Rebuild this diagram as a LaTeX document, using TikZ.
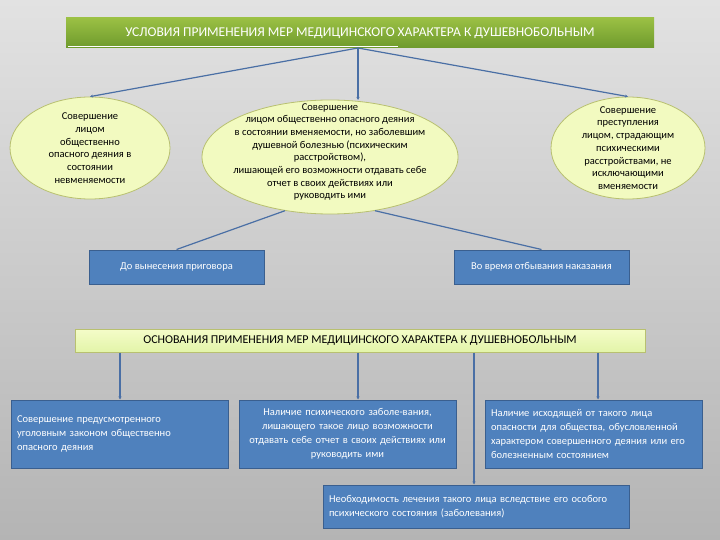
\documentclass[tikz,border=0pt]{standalone}
\usepackage{fontspec}
\setmainfont{Carlito}
\usetikzlibrary{arrows.meta,shapes.geometric}
\definecolor{bgtop}{HTML}{E2E2E2}
\definecolor{bgbot}{HTML}{B4B4B4}
\definecolor{grn1}{HTML}{9BC044}
\definecolor{grn2}{HTML}{6E9A2C}
\definecolor{ell}{HTML}{F2FAC0}
\definecolor{ellb}{HTML}{B8C070}
\definecolor{bx}{HTML}{4F81BD}
\definecolor{bxb}{HTML}{3A5F8F}
\definecolor{yl}{HTML}{F4FCC8}
\definecolor{yl2}{HTML}{E2F4A8}
\definecolor{ln}{HTML}{4A6FA5}
\begin{document}
\begin{tikzpicture}[x=1pt,y=-1pt,
  el/.style={ellipse,draw=ellb,fill=ell,line width=0.8pt,inner sep=0pt},
  elt/.style={align=center,font=\fontsize{10.5}{12.7}\selectfont,inner sep=0pt},
  bx/.style={draw=bxb,fill=bx,line width=1pt,text=white,font=\fontsize{10.5}{14}\selectfont,inner sep=3pt},
  con/.style={draw=ln,line width=1.2pt},
  arr/.style={con,-{Stealth[length=3pt,width=3pt]}}]
\useasboundingbox (0,0) rectangle (720,540);
\shade[top color=bgtop,bottom color=bgbot] (0,0) rectangle (720,540);
\node[minimum width=588pt,minimum height=30pt,inner sep=0pt,top color=grn1,bottom color=grn2,text=white,font=\fontsize{13.5}{15}\selectfont] (t1) at (360,33) {УСЛОВИЯ ПРИМЕНЕНИЯ МЕР МЕДИЦИНСКОГО ХАРАКТЕРА К ДУШЕВНОБОЛЬНЫМ};
\draw[white,line width=0.6pt] (68,46) -- (398,46);
\node[el,minimum width=160pt,minimum height=102pt] (e1) at (90,148) {};
\node[elt] (e1t) at (90,148) {Совершение\\лицом\\общественно\\опасного деяния в\\состоянии\\невменяемости};
\node[el,minimum width=256pt,minimum height=114pt] (e2) at (330,157) {};
\node[elt] (e2t) at (330,152) {Совершение\\лицом общественно опасного деяния\\в состоянии вменяемости, но заболевшим\\душевной болезнью (психическим\\расстройством),\\лишающей его возможности отдавать себе\\отчет в своих действиях или\\руководить ими};
\node[el,minimum width=154pt,minimum height=102pt] (e3) at (628,148) {};
\node[elt] (e3t) at (628,148) {Совершение\\преступления\\лицом, страдающим\\психическими\\расстройствами, не\\исключающими\\вменяемости};
\coordinate (t1b) at (358,48);
\draw[arr] (t1b) -- (e1.north);
\draw[arr] (t1b) -- (358,100);
\draw[arr] (t1b) -- (e3.north);
\node[bx,minimum width=175pt,minimum height=34pt] (b1) at (176.5,267) {До вынесения приговора};
\node[bx,minimum width=175pt,minimum height=34pt] (b2) at (541.5,267) {Во время отбывания наказания};
\draw[con] (e2.230) -- (b1.north);
\draw[con] (e2.310) -- (b2.north);
\node[draw=ellb,line width=0.6pt,top color=yl,bottom color=yl2,minimum width=570pt,minimum height=23pt,inner sep=0pt,font=\fontsize{12}{14}\selectfont] (t2) at (360,341) {ОСНОВАНИЯ ПРИМЕНЕНИЯ МЕР МЕДИЦИНСКОГО ХАРАКТЕРА К ДУШЕВНОБОЛЬНЫМ};
\node[bx,minimum width=217pt,minimum height=68pt,text width=205pt,align=left] (c1) at (119.5,434) {Совершение предусмотренного\\уголовным законом общественно\\опасного деяния};
\node[bx,minimum width=217pt,minimum height=68pt,text width=205pt,align=center] (c2) at (347.5,434) {Наличие психического заболе-вания,\\лишающего такое лицо возможности\\отдавать себе отчет в своих действиях или\\руководить ими};
\node[bx,minimum width=217pt,minimum height=68pt,text width=205pt,align=left] (c3) at (593.5,434) {Наличие исходящей от такого лица\\опасности для общества, обусловленной\\характером совершенного деяния или его\\болезненным состоянием};
\node[bx,minimum width=306pt,minimum height=43pt,text width=294pt,align=left] (c4) at (476,506.5) {Необходимость лечения такого лица вследствие его особого\\психического состояния (заболевания)};
\draw[arr] (120,352.5) -- (c1.north -| 120,0);
\draw[arr] (358,352.5) -- (c2.north -| 358,0);
\draw[arr] (598,352.5) -- (c3.north -| 598,0);
\draw[arr] (474,352.5) -- (c4.north -| 474,0);
\end{tikzpicture}
\end{document}
